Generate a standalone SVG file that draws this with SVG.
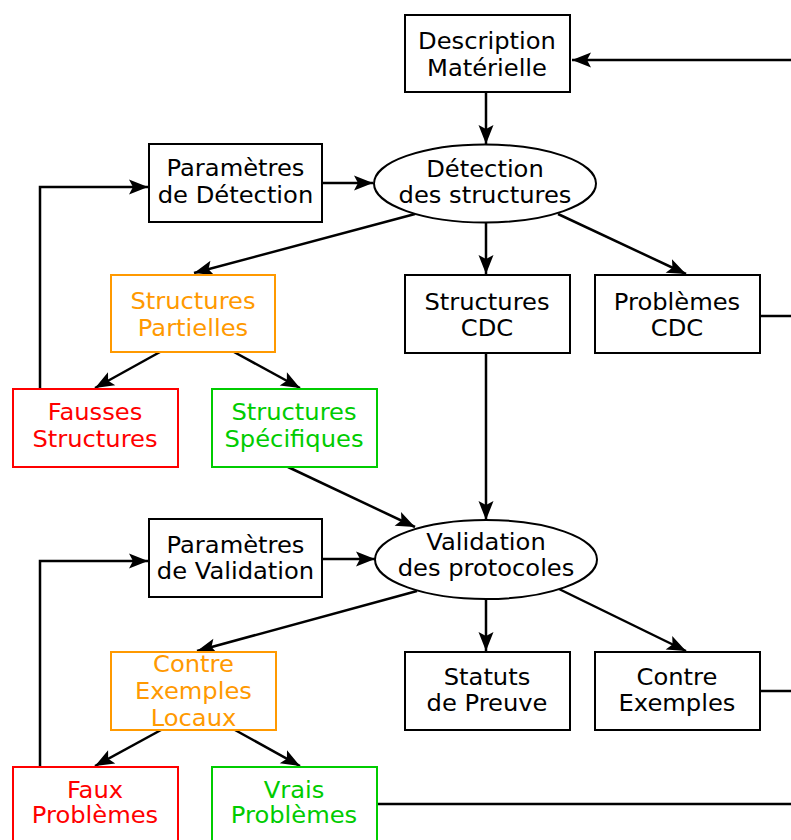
<svg xmlns="http://www.w3.org/2000/svg" width="791" height="840" viewBox="0 0 791 840">
  <style>
    .box { fill: #ffffff; stroke: #000000; stroke-width: 2; }
    .orange { stroke: #ff9900; }
    .red { stroke: #ff0000; }
    .green { stroke: #00cc00; }
    .lbl { font-family: "DejaVu Sans", "Liberation Sans", sans-serif; font-size: 23.5px; text-anchor: middle; fill: #000000; }
    .t-orange { fill: #ff9900; }
    .t-red { fill: #ff0000; }
    .t-green { fill: #00cc00; }
    .edge { fill: none; stroke: #000000; stroke-width: 2.5; }
  </style>
  <defs>
    <marker id="arrow" markerUnits="userSpaceOnUse" markerWidth="22" markerHeight="18" refX="19" refY="7.5" orient="auto" overflow="visible">
      <path d="M0,0 L19,7.5 L0,15 L4,7.5 z" fill="#000000"/>
    </marker>
  </defs>

  <!-- connectors -->
  <g id="edges">
    <path class="edge" d="M791,60 L572,60" marker-end="url(#arrow)"/>
    <path class="edge" d="M486,93 L486,144" marker-end="url(#arrow)"/>
    <path class="edge" d="M323,183 L373,183" marker-end="url(#arrow)"/>
    <path class="edge" d="M415,214 L194,273" marker-end="url(#arrow)"/>
    <path class="edge" d="M486,223 L486,274" marker-end="url(#arrow)"/>
    <path class="edge" d="M558,214 L686,274" marker-end="url(#arrow)"/>
    <path class="edge" d="M160,352 L95,388" marker-end="url(#arrow)"/>
    <path class="edge" d="M234,352 L300,388" marker-end="url(#arrow)"/>
    <path class="edge" d="M40,388 L40,187 L148,187" marker-end="url(#arrow)"/>
    <path class="edge" d="M761,316 L791,316"/>
    <path class="edge" d="M486,353 L486,520" marker-end="url(#arrow)"/>
    <path class="edge" d="M288,467 L415,527" marker-end="url(#arrow)"/>
    <path class="edge" d="M323,559 L375,559" marker-end="url(#arrow)"/>
    <path class="edge" d="M417,591 L197,651" marker-end="url(#arrow)"/>
    <path class="edge" d="M486,599 L486,651" marker-end="url(#arrow)"/>
    <path class="edge" d="M559,589 L686,651" marker-end="url(#arrow)"/>
    <path class="edge" d="M161,730 L95,766" marker-end="url(#arrow)"/>
    <path class="edge" d="M235,730 L300,766" marker-end="url(#arrow)"/>
    <path class="edge" d="M40,766 L40,561 L148,561" marker-end="url(#arrow)"/>
    <path class="edge" d="M761,691 L791,691"/>
    <path class="edge" d="M378,804 L791,804"/>
  </g>

  <g id="description">
    <rect class="box" x="405" y="15" width="165" height="77"/>
    <text class="lbl" transform="translate(487,49) scale(1.03,1)"><tspan x="0" y="0">Description</tspan><tspan x="0" y="27">Matérielle</tspan></text>
  </g>

  <g id="detection">
    <ellipse class="box" cx="485" cy="183.5" rx="111" ry="39"/>
    <text class="lbl" transform="translate(485,177) scale(1.03,1)"><tspan x="0" y="0">Détection</tspan><tspan x="0" y="26.5">des structures</tspan></text>
  </g>

  <g id="param-detection">
    <rect class="box" x="149" y="144" width="173" height="78"/>
    <text class="lbl" transform="translate(235.5,176) scale(1.03,1)"><tspan x="0" y="0">Paramètres</tspan><tspan x="0" y="27">de Détection</tspan></text>
  </g>

  <g id="structures-partielles">
    <rect class="box orange" x="111" y="275" width="164" height="77"/>
    <text class="lbl t-orange" transform="translate(193,309) scale(1.03,1)"><tspan x="0" y="0">Structures</tspan><tspan x="0" y="27">Partielles</tspan></text>
  </g>

  <g id="fausses-structures">
    <rect class="box red" x="13" y="389" width="165" height="78"/>
    <text class="lbl t-red" transform="translate(95,420) scale(1.03,1)"><tspan x="0" y="0">Fausses</tspan><tspan x="0" y="27">Structures</tspan></text>
  </g>

  <g id="structures-specifiques">
    <rect class="box green" x="212" y="389" width="165" height="78"/>
    <text class="lbl t-green" transform="translate(294,420) scale(1.03,1)"><tspan x="0" y="0">Structures</tspan><tspan x="0" y="27">Spécifiques</tspan></text>
  </g>

  <g id="structures-cdc">
    <rect class="box" x="405" y="275" width="165" height="78"/>
    <text class="lbl" transform="translate(487,310) scale(1.03,1)"><tspan x="0" y="0">Structures</tspan><tspan x="0" y="26">CDC</tspan></text>
  </g>

  <g id="problemes-cdc">
    <rect class="box" x="595" y="275" width="165" height="78"/>
    <text class="lbl" transform="translate(677,310) scale(1.03,1)"><tspan x="0" y="0">Problèmes</tspan><tspan x="0" y="26">CDC</tspan></text>
  </g>

  <g id="validation">
    <ellipse class="box" cx="486" cy="559.5" rx="111" ry="39.5"/>
    <text class="lbl" transform="translate(486,549.5) scale(1.03,1)"><tspan x="0" y="0">Validation</tspan><tspan x="0" y="26.5">des protocoles</tspan></text>
  </g>

  <g id="param-validation">
    <rect class="box" x="149" y="519" width="173" height="78"/>
    <text class="lbl" transform="translate(235.5,553) scale(1.03,1)"><tspan x="0" y="0">Paramètres</tspan><tspan x="0" y="26.5">de Validation</tspan></text>
  </g>

  <g id="contre-exemples-locaux">
    <rect class="box orange" x="111" y="652" width="165" height="78"/>
    <text class="lbl t-orange" transform="translate(193.5,672) scale(1.03,1)"><tspan x="0" y="0">Contre</tspan><tspan x="0" y="27">Exemples</tspan><tspan x="0" y="54">Locaux</tspan></text>
  </g>

  <g id="statuts-preuve">
    <rect class="box" x="405" y="652" width="165" height="78"/>
    <text class="lbl" transform="translate(487,685) scale(1.03,1)"><tspan x="0" y="0">Statuts</tspan><tspan x="0" y="26">de Preuve</tspan></text>
  </g>

  <g id="contre-exemples">
    <rect class="box" x="595" y="652" width="165" height="78"/>
    <text class="lbl" transform="translate(677,685) scale(1.03,1)"><tspan x="0" y="0">Contre</tspan><tspan x="0" y="26">Exemples</tspan></text>
  </g>

  <g id="faux-problemes">
    <rect class="box red" x="13" y="767" width="165" height="78"/>
    <text class="lbl t-red" transform="translate(95,798) scale(1.03,1)"><tspan x="0" y="0">Faux</tspan><tspan x="0" y="25.5">Problèmes</tspan></text>
  </g>

  <g id="vrais-problemes">
    <rect class="box green" x="212" y="767" width="165" height="78"/>
    <text class="lbl t-green" transform="translate(294,798) scale(1.03,1)"><tspan x="0" y="0">Vrais</tspan><tspan x="0" y="25.5">Problèmes</tspan></text>
  </g>
</svg>
